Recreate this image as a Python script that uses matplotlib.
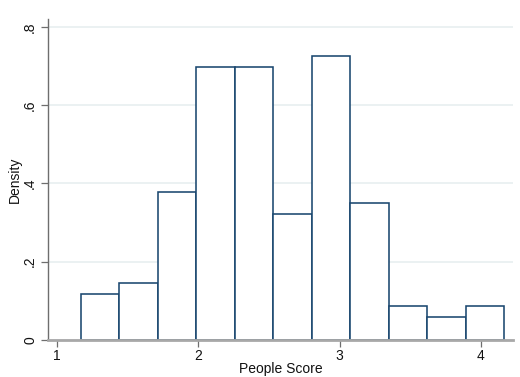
import matplotlib
matplotlib.use("Agg")
import matplotlib.pyplot as plt
import numpy as np

plt.rcParams['font.family'] = ['Liberation Sans', 'DejaVu Sans']

# Histogram of people scores (density scale), 11 equal-width bins
bin_start = 1.1667
bin_end = 4.1667
densities = [0.117, 0.146, 0.379, 0.699, 0.699, 0.321, 0.727, 0.349, 0.087, 0.058, 0.087]
x_ticks = [1, 2, 3, 4]
x_tick_labels = ["1", "2", "3", "4"]
y_ticks = [0, 0.2, 0.4, 0.6, 0.8]
y_tick_labels = ["0", ".2", ".4", ".6", ".8"]

W, H = 520, 377
fig = plt.figure(figsize=(W / 100, H / 100), dpi=100)
fig.patch.set_facecolor("white")
ax = fig.add_axes([48.3 / W, 37.3 / H, (512.7 - 48.3) / W, (339.7 - 19.3) / H])

edges = np.linspace(bin_start, bin_end, len(densities) + 1)
ax.bar(edges[:-1], densities, width=np.diff(edges), align="edge",
       facecolor="white", edgecolor="#1a476f", linewidth=1.15, zorder=3)

ax.set_xlim(0.938, 4.225)
ax.set_ylim(0, 0.820)

ax.set_yticks(y_ticks)
ax.set_yticklabels(y_tick_labels, rotation=90, va="center")
ax.set_xticks(x_ticks)
ax.set_xticklabels(x_tick_labels)

ax.grid(axis="y", color="#e8eff0", linewidth=1.2, zorder=0)
ax.grid(axis="x", visible=False)

for side in ("top", "right"):
    ax.spines[side].set_visible(False)
ax.spines["left"].set_color("#6e6e6e")
ax.spines["left"].set_linewidth(1.0)
ax.spines["bottom"].set_color("#a8a8a8")
ax.spines["bottom"].set_linewidth(2.0)
ax.spines["bottom"].set_zorder(4)

ax.tick_params(axis="y", length=5, width=0.9, color="#6e6e6e", pad=3,
               labelsize=10, labelcolor="#111111")
ax.tick_params(axis="x", length=5, width=0.9, color="#6e6e6e", pad=2,
               labelsize=10, labelcolor="#111111")

ax.set_xlabel("People Score", fontsize=10, color="#111111", labelpad=-1)
ax.set_ylabel("Density", fontsize=10, color="#111111", labelpad=1)

fig.savefig("out.png", dpi=100, facecolor="white")
